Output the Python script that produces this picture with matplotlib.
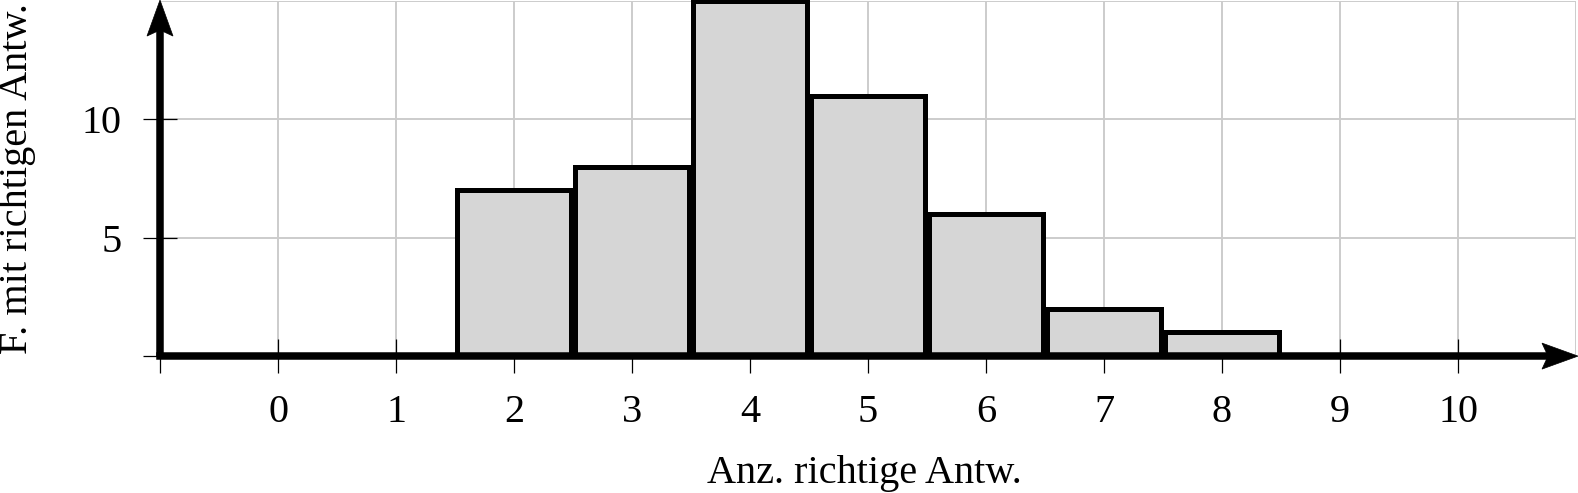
import matplotlib
matplotlib.use("Agg")
import matplotlib.pyplot as plt
import matplotlib.transforms as mtransforms
from matplotlib.patches import Polygon

# Data
categories = [2, 3, 4, 5, 6, 7, 8]
counts = [7, 8, 15, 11, 6, 2, 1]
x_ticks = list(range(-1, 11))
x_tick_labels = [""] + [str(v) for v in range(0, 11)]
y_ticks = [0, 5, 10]
y_tick_labels = ["", "5", "10"]
xlabel = "Anz. richtige Antw."
ylabel = "F. mit richtigen Antw."

plt.rcParams["font.family"] = ["Liberation Serif", "DejaVu Serif"]
plt.rcParams["font.size"] = 29

W, H = 1578, 493
fig = plt.figure(figsize=(W / 100, H / 100), dpi=100)
ax_left, ax_right = 160, 1576
ax_top, ax_bottom = 0.95, 356.1
ax = fig.add_axes([ax_left / W, (H - ax_bottom) / H,
                   (ax_right - ax_left) / W, (ax_bottom - ax_top) / H])
ax.set_xlim(-1, 11)
ax.set_ylim(0, 15)
for s in ax.spines.values():
    s.set_visible(False)

ax.set_axisbelow(True)
ax.set_xticks(x_ticks)
ax.set_xticklabels(x_tick_labels)
ax.set_yticks(y_ticks)
ax.set_yticklabels(y_tick_labels)
ax.tick_params(direction="inout", length=24.5, width=0.9, color="black",
               pad=15.3, labelsize=29)
ax.grid(True, color="#cccccc", linewidth=1.4)
ax.axvline(11, color="#cccccc", linewidth=1.4, zorder=0.5)
ax.axhline(15, color="#cccccc", linewidth=1.4, zorder=0.5)

ax.bar(categories, counts, width=0.958, color="#d6d6d6", edgecolor="black",
       linewidth=3.6, zorder=1, clip_on=False)

# axis lines with arrows
ppu_x = (ax_right - ax_left) / 12.0
ppu_y = (ax_bottom - ax_top) / 15.0
lw_axis = 5.4
x_tip = 11 + 2 / ppu_x
y_tip = 15 + 0.9 / ppu_y
ax.plot([-1, x_tip - 30 / ppu_x], [0, 0], color="black", lw=lw_axis,
        solid_capstyle="projecting", clip_on=False, zorder=3)
ax.plot([-1, -1], [0, y_tip - 30 / ppu_y], color="black", lw=lw_axis,
        solid_capstyle="butt", clip_on=False, zorder=3)

trx = mtransforms.Affine2D() + mtransforms.ScaledTranslation(x_tip, 0, ax.transData)
ax.add_patch(Polygon([(0, 0), (-36, 13), (-30, 0), (-36, -13)], closed=True,
                     transform=trx, facecolor="black", edgecolor="black",
                     lw=0.5, clip_on=False, zorder=4))
try_ = mtransforms.Affine2D() + mtransforms.ScaledTranslation(-1, y_tip, ax.transData)
ax.add_patch(Polygon([(0, 0), (-13, -36), (0, -30), (13, -36)], closed=True,
                     transform=try_, facecolor="black", edgecolor="black",
                     lw=0.5, clip_on=False, zorder=4))

ax.set_xlabel(xlabel, fontsize=29, va="baseline")
ax.xaxis.set_label_coords((864 - ax_left) / (ax_right - ax_left),
                          -(483 - ax_bottom) / (ax_bottom - ax_top))
ax.set_ylabel(ylabel, fontsize=29, va="baseline")
ax.yaxis.set_label_coords((27 - ax_left) / (ax_right - ax_left),
                          (ax_bottom - 178.5) / (ax_bottom - ax_top))

fig.savefig("out.png", dpi=100)
